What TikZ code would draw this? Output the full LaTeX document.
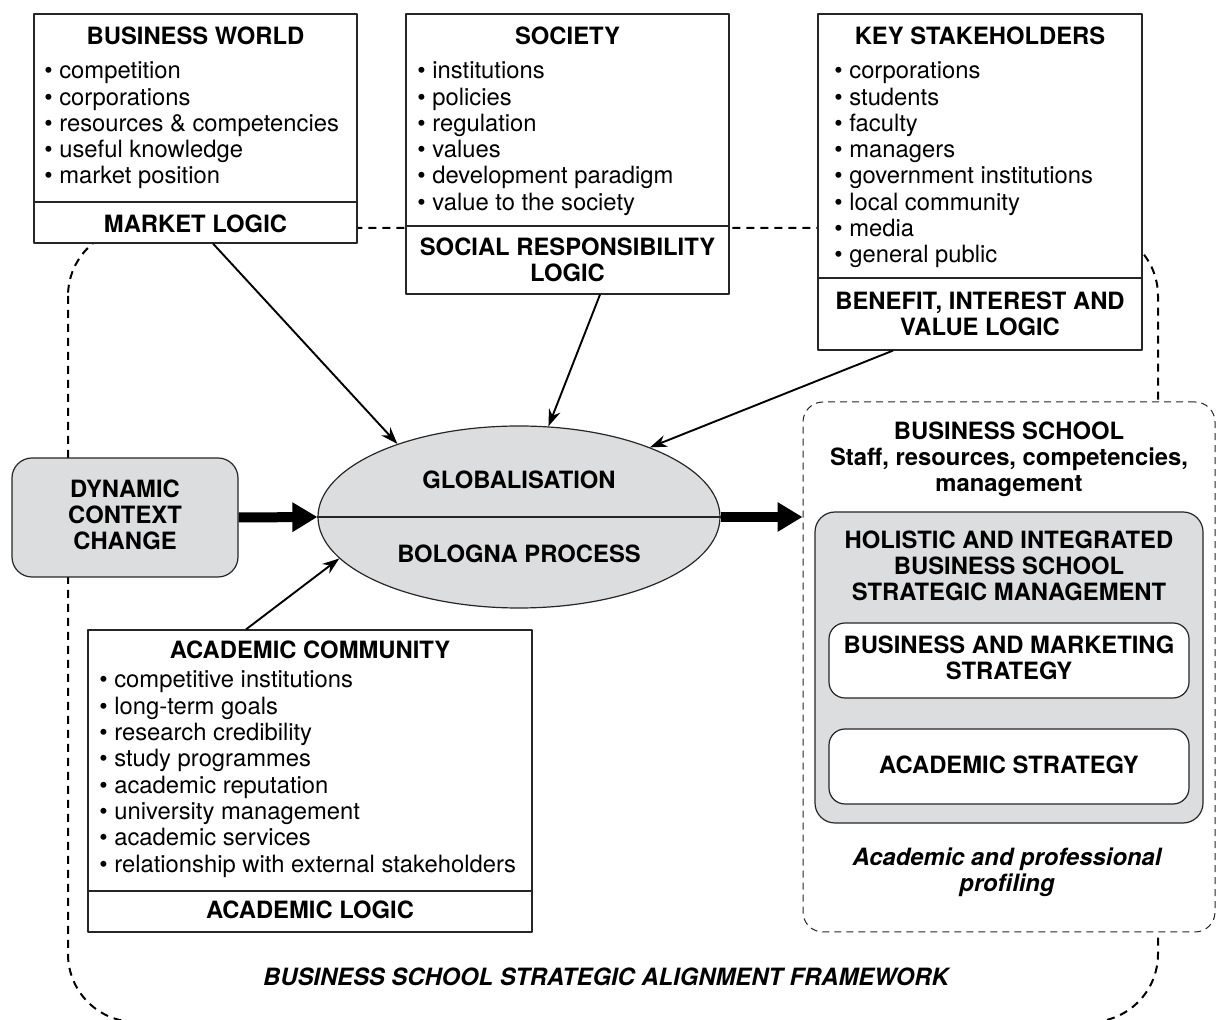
\documentclass[tikz,border=0pt]{standalone}
\usepackage{fontspec}
\setmainfont{TeX Gyre Heros}
\usetikzlibrary{arrows.meta,fit,shapes.geometric}
\definecolor{boxgray}{RGB}{220,221,223}
\newcommand\boxfont{\fontsize{11.9}{13.2}\selectfont}
\tikzset{
  box/.style={draw=black!85, fill=white, line width=0.6pt, inner sep=0pt},
  graybox/.style={draw=black!85, fill=boxgray, line width=0.6pt, inner sep=0pt, rounded corners=10pt},
  whitebox/.style={draw=black!85, fill=white, line width=0.6pt, inner sep=0pt, rounded corners=8pt},
  boxtitle/.style={font=\boxfont\bfseries, anchor=base, align=center},
  bul/.style={anchor=base west, inner xsep=0pt},
  arr/.style={-{Stealth[length=8.5pt,width=6pt]}, line width=0.95pt},
  fatarr/.style={-{Triangle[length=12.5pt,width=14pt]}, line width=5pt},
  frame/.style={dash pattern=on 4pt off 3pt, line width=1pt, rounded corners=34pt},
}
\begin{document}
\begin{tikzpicture}[x=0.5pt, y=-0.5pt, font=\boxfont, line join=round]
  \useasboundingbox (0,0) rectangle (1216,1020);
  % outer alignment frame, behind everything
  \draw[frame] (68,228) rectangle (1158,1022);

  % business world
  \node[box, fit={(34,14) (357,243)}] (bw) {};
  \draw[black!85, line width=0.6pt] (bw.west |- 0,202) -- (bw.east |- 0,202);
  \node[boxtitle] (bw-t) at (195.5,45) {BUSINESS WORLD};
  \foreach \t [count=\i from 0] in {competition, corporations, resources \& competencies, useful knowledge, market position}
    \node[bul] (bw-\i) at (44,{79+26.25*\i}) {• \t};
  \node[boxtitle] (bw-l) at (195.5,233) {MARKET LOGIC};

  % society
  \node[box, fit={(406,14) (729,294)}] (so) {};
  \draw[black!85, line width=0.6pt] (so.west |- 0,226) -- (so.east |- 0,226);
  \node[boxtitle] (so-t) at (567.5,45) {SOCIETY};
  \foreach \t [count=\i from 0] in {institutions, policies, regulation, values, development paradigm, value to the society}
    \node[bul] (so-\i) at (417,{79+26.25*\i}) {• \t};
  % multi-line nodes sit on their last baseline
  \node[boxtitle] (so-l) at (567.5,282) {SOCIAL RESPONSIBILITY\\LOGIC};

  % key stakeholders
  \node[box, fit={(818,14) (1142,350)}] (ks) {};
  \draw[black!85, line width=0.6pt] (ks.west |- 0,278) -- (ks.east |- 0,278);
  \node[boxtitle] (ks-t) at (980,45) {KEY STAKEHOLDERS};
  \foreach \t [count=\i from 0] in {corporations, students, faculty, managers, government institutions, local community, media, general public}
    \node[bul] (ks-\i) at (834,{79+26.25*\i}) {• \t};
  \node[boxtitle] (ks-l) at (980,336) {BENEFIT, INTEREST AND\\VALUE LOGIC};

  % academic community
  \node[box, fit={(88,630) (532,932)}] (ac) {};
  \draw[black!85, line width=0.6pt] (ac.west |- 0,891) -- (ac.east |- 0,891);
  \node[boxtitle] (ac-t) at (310,659) {ACADEMIC COMMUNITY};
  \foreach \t [count=\i from 0] in {competitive institutions, long-term goals, research credibility, study programmes, academic reputation, university management, academic services, relationship with external stakeholders}
    \node[bul] (ac-\i) at (99,{688+26.3*\i}) {• \t};
  \node[boxtitle] (ac-l) at (310,919) {ACADEMIC LOGIC};

  % dynamic context change
  \node[graybox, fit={(12,458) (238,577)}] (dyn) {};
  \node[boxtitle] (dyn-t) at (125,550) {DYNAMIC\\CONTEXT\\CHANGE};

  % globalisation / bologna ellipse
  \node[ellipse, draw=black!85, fill=boxgray, line width=0.6pt, inner sep=0pt,
        minimum width=201pt, minimum height=91pt] (glob) at (519,517) {};
  \draw[black!85, line width=0.6pt] (glob.west) -- (glob.east);
  \node[boxtitle] (glob-t) at (519,489) {GLOBALISATION};
  \node[boxtitle] (glob-b) at (519,563) {BOLOGNA PROCESS};

  % business school
  \node[box, draw=black!85, line width=0.5pt, dash pattern=on 3.5pt off 2.5pt,
        rounded corners=10pt, fit={(803,402) (1215,932)}] (bs) {};
  \node[boxtitle] (bs-t) at (1009,492) {BUSINESS SCHOOL\\Staff, resources, competencies,\\management};
  \node[graybox, fit={(815,512) (1203,823)}] (hol) {};
  \node[boxtitle] (hol-t) at (1009,601) {HOLISTIC AND INTEGRATED\\BUSINESS SCHOOL\\STRATEGIC MANAGEMENT};
  \node[whitebox, fit={(829,623) (1189,698)}] (bms) {};
  \node[boxtitle] (bms-t) at (1009,680) {BUSINESS AND MARKETING\\STRATEGY};
  \node[whitebox, fit={(829,729) (1189,804)}] (acs) {};
  \node[boxtitle] (acs-t) at (1009,774) {ACADEMIC STRATEGY};
  \node[boxtitle, font=\boxfont\bfseries\itshape] (prof) at (1007,892) {Academic and professional\\profiling};

  \node[boxtitle, font=\boxfont\bfseries\itshape] (fw) at (606,986) {BUSINESS SCHOOL STRATEGIC ALIGNMENT FRAMEWORK};

  % influences on the ellipse
  \draw[arr] ([xshift=8.75pt]bw.south) -- (glob.149);
  \draw[arr] ([xshift=16.25pt]so.south) -- (glob.72);
  \draw[arr] ([xshift=-43.5pt]ks.south) -- (glob.28);
  \draw[arr] ([xshift=-32pt]ac.north) -- (glob.193);

  % main flow
  \draw[fatarr] (dyn.east) -- (glob.west);
  \draw[fatarr] (glob.east) -- (glob.east -| bs.west);
\end{tikzpicture}
\end{document}
